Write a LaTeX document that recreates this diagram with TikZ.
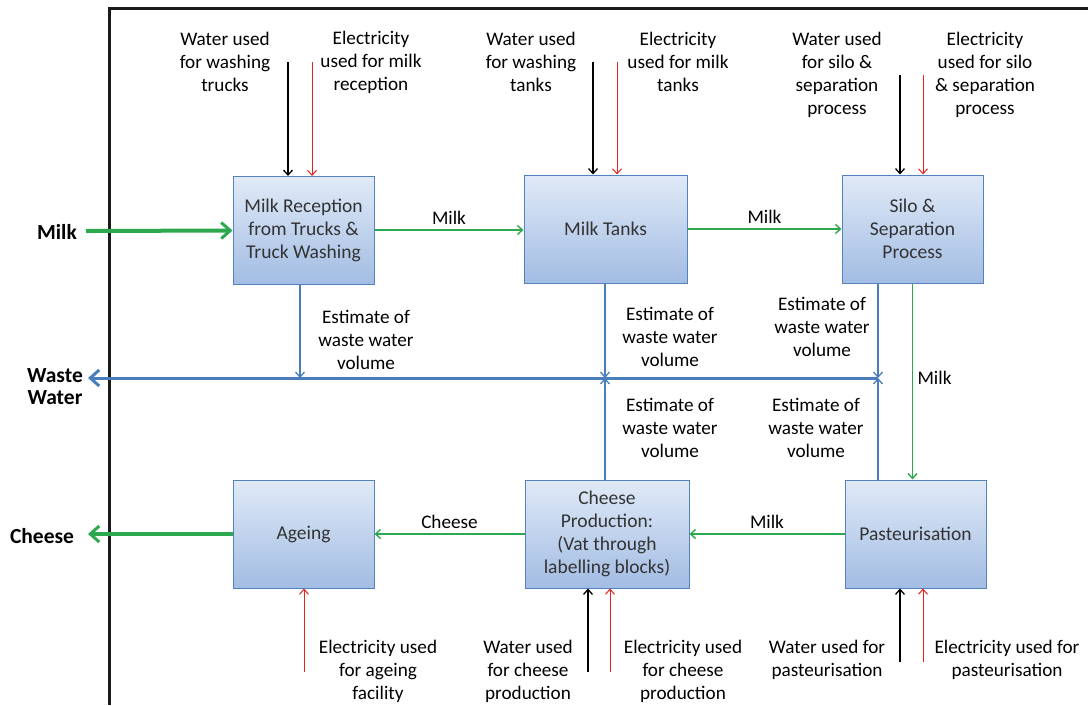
\documentclass[tikz,border=0pt]{standalone}
\usepackage{fontspec}
\setmainfont{Carlito}
\usetikzlibrary{arrows.meta}
\definecolor{flowgreen}{RGB}{44,168,78}
\definecolor{wasteblue}{RGB}{74,126,187}
\definecolor{boxedge}{RGB}{84,130,190}
\definecolor{boxtop}{RGB}{224,234,247}
\definecolor{boxbottom}{RGB}{162,188,227}
\definecolor{power}{RGB}{232,32,32}
\definecolor{frame}{RGB}{26,26,26}

\begin{document}
\begin{tikzpicture}[x=1pt, y=-1pt,
        stage/.style={draw=boxedge, line width=1pt, top color=boxtop, bottom color=boxbottom,
            minimum width=141pt, minimum height=108pt, inner sep=2pt, align=center,
            text=black!80, font=\fontsize{19.5}{23}\selectfont},
        lbl/.style={align=center, font=\fontsize{19.2}{23}\selectfont},
        side/.style={align=center, font=\fontsize{21.5}{22}\selectfont\bfseries},
        tip/.style={-{Straight Barb[length=5pt,width=9pt]}},
        bigtip/.style={-{Straight Barb[length=9pt,width=16pt,line width=3pt]}},
        milk/.style={tip, draw=flowgreen, line width=1.4pt},
        water/.style={tip, draw=black, line width=1.3pt},
        elec/.style={tip, draw=power, line width=1pt},
        waste/.style={tip, draw=wasteblue, line width=1.3pt}]
    \useasboundingbox (0,0) rectangle (1088,705);

    % outer frame
    \draw[frame, line width=3pt] (109,705) -- (109,8) -- (1088,8);

    % process blocks
    \node[stage] (rec) at (303.5,230.5) {Milk Reception\\from Trucks \&\\Truck Washing};
    \node[stage, minimum width=163pt] (tank) at (605.5,229) {Milk Tanks};
    \node[stage] (silo) at (912.5,229) {Silo \&\\Separation\\Process};
    \node[stage] (age) at (303.5,534) {Ageing};
    \node[stage, minimum width=164pt] (chz) at (607,534) {Cheese\\Production:\\(Vat through\\labelling blocks)};
    \node[stage] (past) at (915.5,534) {Pasteurisation};

    % milk and cheese flow
    \coordinate (milkIn) at (86,231);
    \coordinate (chzOut) at (88,534);
    \node[side] at (57,232) {Milk};
    \node[side] at (42,536) {Cheese};
    \draw[bigtip, draw=flowgreen, line width=4pt] (milkIn) -- (rec.west);
    \draw[milk] (rec.east |- 0,230) -- node[lbl, above=1pt, black] {Milk} (tank.west |- 0,230);
    \draw[milk] (tank.east) -- node[lbl, above=1pt, black] {Milk} (silo.west);
    \draw[milk] (silo.south) -- node[lbl, right=1pt, pos=.48, black] {Milk} (silo.south |- past.north);
    \draw[milk] (past.west) -- node[lbl, above=1pt, black] {Milk} (chz.east);
    \draw[milk] (chz.west) -- node[lbl, above=1pt, black] {Cheese} (age.east);
    \draw[bigtip, draw=flowgreen, line width=4pt] (age.west) -- (chzOut);

    % waste water collector
    \coordinate (jRec) at (300,378);
    \coordinate (jTank) at (605,378);
    \coordinate (jSilo) at (878,378);
    \coordinate (wwOut) at (88,378);
    \node[side] at (55,387) {Waste\\Water};
    \draw[bigtip, draw=wasteblue, line width=3pt] (jSilo) -- (wwOut);
    \draw[waste] (jRec |- rec.south) -- (jRec);
    \draw[waste] (jTank |- tank.south) -- (jTank);
    \draw[waste] (jTank |- chz.north) -- (jTank);
    \draw[waste] (jSilo |- silo.south) -- (jSilo);
    \draw[waste] (jSilo |- past.north) -- (jSilo);
    \node[lbl] at (366,340) {Estimate of\\waste water\\volume};
    \node[lbl] at (670,337) {Estimate of\\waste water\\volume};
    \node[lbl] at (670,428) {Estimate of\\waste water\\volume};
    \node[lbl] at (822,327) {Estimate of\\waste water\\volume};
    \node[lbl] at (816,428) {Estimate of\\waste water\\volume};

    % water and electricity inputs, top row
    \coordinate (wRec) at (288,62);   \coordinate (eRec) at (312,62);
    \coordinate (wTank) at (593,62);  \coordinate (eTank) at (617,62);
    \coordinate (wSilo) at (900,75);  \coordinate (eSilo) at (923,75);
    \draw[water] (wRec) -- (wRec |- rec.north);
    \draw[elec] (eRec) -- (eRec |- rec.north);
    \draw[water] (wTank) -- (wTank |- tank.north);
    \draw[elec] (eTank) -- (eTank |- tank.north);
    \draw[water] (wSilo) -- (wSilo |- silo.north);
    \draw[elec] (eSilo) -- (eSilo |- silo.north);
    \node[lbl] at (225,62) {Water used\\for washing\\trucks};
    \node[lbl] at (371,62) {Electricity\\used for milk\\reception};
    \node[lbl] at (531,62) {Water used\\for washing\\tanks};
    \node[lbl] at (678,62) {Electricity\\used for milk\\tanks};
    \node[lbl] at (837,75) {Water used\\for silo \&\\separation\\process};
    \node[lbl] at (985,75) {Electricity\\used for silo\\\& separation\\process};

    % water and electricity inputs, bottom row
    \coordinate (eAge) at (304,672);
    \coordinate (wChz) at (588,672);  \coordinate (eChz) at (610,672);
    \coordinate (wPast) at (900,662); \coordinate (ePast) at (923,662);
    \draw[elec] (eAge) -- (eAge |- age.south);
    \draw[water] (wChz) -- (wChz |- chz.south);
    \draw[elec] (eChz) -- (eChz |- chz.south);
    \draw[water] (wPast) -- (wPast |- past.south);
    \draw[elec] (ePast) -- (ePast |- past.south);
    \node[lbl] at (378,671) {Electricity used\\for ageing\\facility};
    \node[lbl] at (528,671) {Water used\\for cheese\\production};
    \node[lbl] at (683,671) {Electricity used\\for cheese\\production};
    \node[lbl] at (827,660) {Water used for\\pasteurisation};
    \node[lbl] at (1007,660) {Electricity used for\\pasteurisation};
\end{tikzpicture}
\end{document}
